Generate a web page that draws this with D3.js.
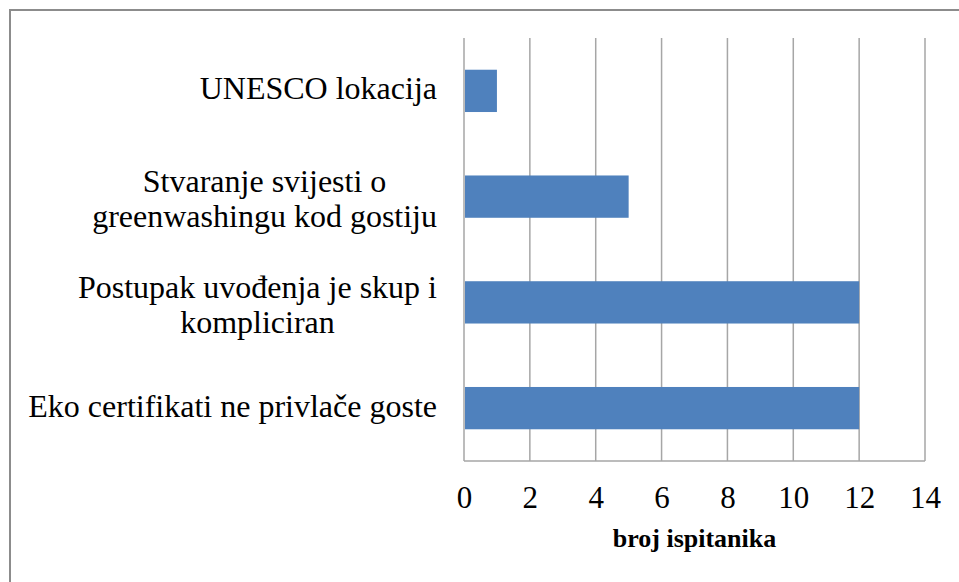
<!DOCTYPE html>
<html>
<head>
<meta charset="utf-8">
<script src="https://cdn.jsdelivr.net/npm/d3@7"></script>
<style>
  body { margin: 0; background: #fff; }
</style>
</head>
<body>
<div id="chart"></div>
<script>
// Data
const categories = [
    ["UNESCO lokacija"],
    ["Stvaranje svijesti o", "greenwashingu kod gostiju"],
    ["Postupak uvođenja je skup i", "kompliciran"],
    ["Eko certifikati ne privlače goste"]
];
const values = [1, 5, 12, 12];
const xTicks = [0, 2, 4, 6, 8, 10, 12, 14];
const xTitle = "broj ispitanika";

const W = 959, H = 582;
const plot = {left: 464, right: 925, top: 38, bottom: 461};
const serif = "Liberation Serif";

const svg = d3.select("#chart")
    .append("svg")
    .attr("width", W)
    .attr("height", H);

// Outer chart border (right/bottom fall outside the picture)
svg.append("rect")
    .attr("x", 10)
    .attr("y", 10)
    .attr("width", 1000)
    .attr("height", 700)
    .attr("fill", "none")
    .attr("stroke", "#8c8c8c")
    .attr("stroke-width", 2);

const x = d3.scaleLinear()
    .domain([0, 14])
    .range([plot.left, plot.right]);

const y = d3.scaleBand()
    .domain(d3.range(categories.length))
    .range([plot.top, plot.bottom])
    .paddingInner(0.6)
    .paddingOuter(0.3);

// Vertical gridlines
svg.append("g")
    .selectAll("line")
    .data(xTicks)
    .join("line")
    .attr("x1", d => x(d))
    .attr("x2", d => x(d))
    .attr("y1", plot.top)
    .attr("y2", plot.bottom)
    .attr("stroke", "#a6a6a6")
    .attr("stroke-width", 1.5);

// Bottom axis line
svg.append("line")
    .attr("x1", plot.left)
    .attr("x2", plot.right)
    .attr("y1", plot.bottom)
    .attr("y2", plot.bottom)
    .attr("stroke", "#a6a6a6")
    .attr("stroke-width", 1.5);

// Bars
svg.append("g")
    .selectAll("rect")
    .data(values)
    .join("rect")
    .attr("x", x(0) + 1)
    .attr("y", (d, i) => y(i))
    .attr("width", d => x(d) - x(0) - 1)
    .attr("height", y.bandwidth())
    .attr("fill", "#4f81bd");

// Tick labels
const xAxis = svg.append("g")
    .attr("transform", `translate(0,${plot.bottom})`)
    .call(d3.axisBottom(x).tickValues(xTicks).tickSize(0).tickPadding(0));
xAxis.select(".domain").remove();
xAxis.attr("font-family", serif).attr("font-size", 31);
xAxis.selectAll("text")
    .attr("y", 47)
    .attr("dy", null)
    .attr("fill", "#000")
    .style("font-family", serif)
    .style("font-size", "31px");

// Axis title
svg.append("text")
    .attr("x", (plot.left + plot.right) / 2)
    .attr("y", 547)
    .attr("text-anchor", "middle")
    .attr("fill", "#000")
    .style("font-family", serif)
    .style("font-size", "26px")
    .style("font-weight", "bold")
    .text(xTitle);

// Category labels: lines centred within a block right-aligned to the axis
const lineH = 35;
const labelRight = 437;
const labels = svg.append("g")
    .selectAll("text")
    .data(categories)
    .join("text")
    .attr("fill", "#000")
    .style("font-family", serif)
    .style("font-size", "32px")
    .attr("text-anchor", "middle");

labels.each(function(lines, i) {
    const t = d3.select(this);
    const cy = y(i) + y.bandwidth() / 2;
    const n = lines.length;
    const first = cy - (n - 1) * lineH / 2 + (n > 1 ? 13 : 8.5);
    lines.forEach((s, k) => {
        t.append("tspan").attr("y", first + k * lineH).text(s);
    });
    let maxW = 0;
    t.selectAll("tspan").each(function() {
        maxW = Math.max(maxW, this.getComputedTextLength());
    });
    t.selectAll("tspan").attr("x", labelRight - maxW / 2);
});
</script>
</body>
</html>
